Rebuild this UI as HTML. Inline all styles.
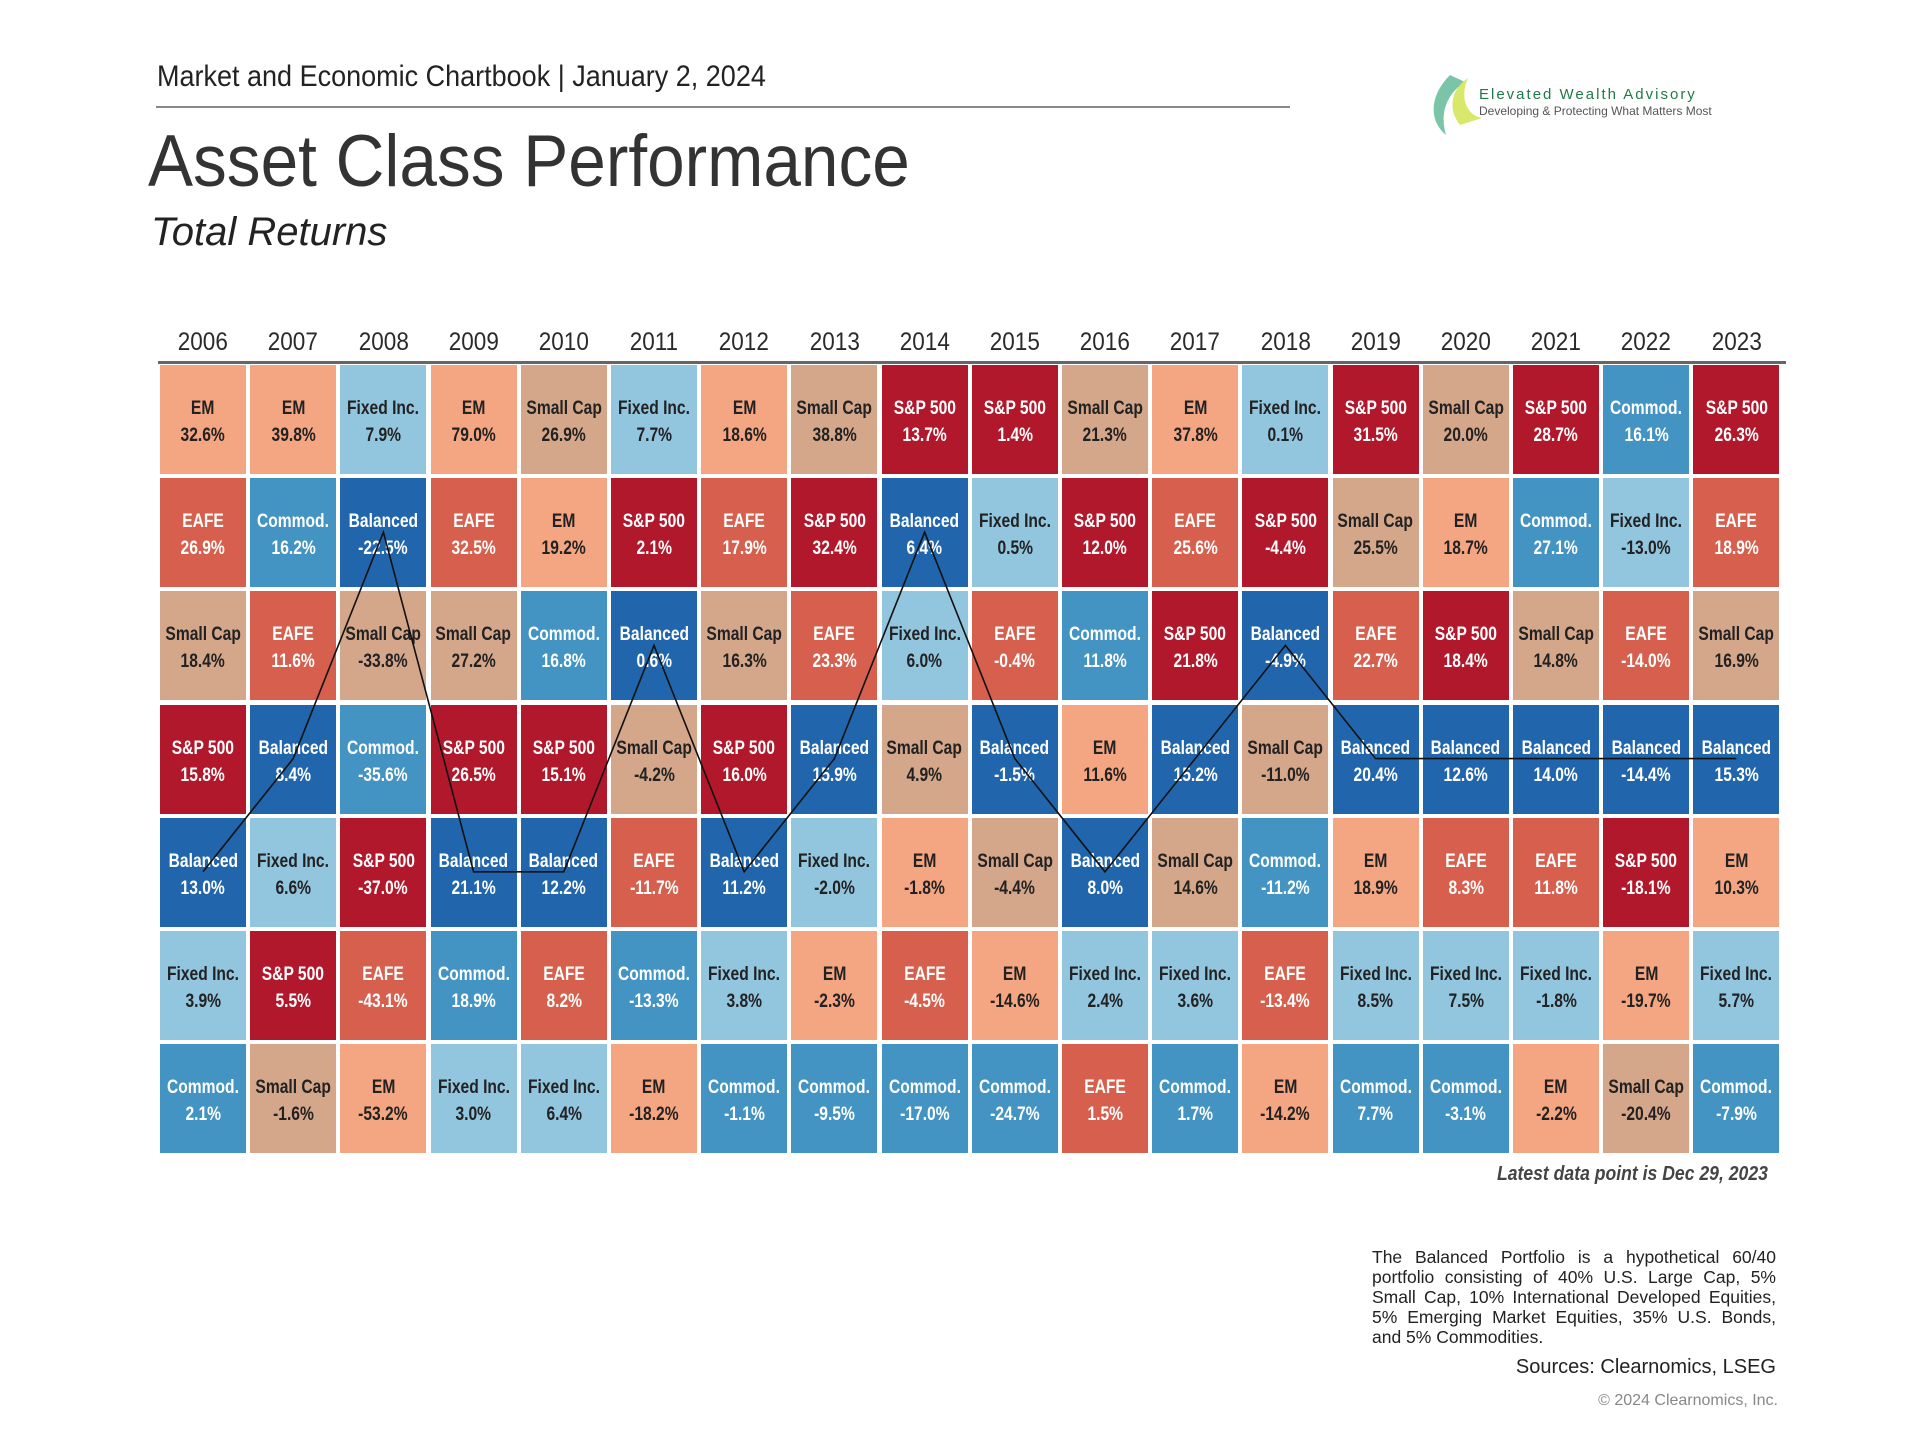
<!DOCTYPE html>
<html><head><meta charset="utf-8"><style>
body{margin:0;width:1920px;height:1440px;background:#fff;position:relative;overflow:hidden;font-family:"Liberation Sans",sans-serif;color:#222}
.a{position:absolute}
.cell{position:absolute;width:86px;height:109px;display:flex;flex-direction:column;align-items:center;justify-content:center;font-size:19.5px;line-height:27px;font-weight:bold;padding-top:5px;box-sizing:border-box}
.cell span{display:block;white-space:nowrap;transform:scaleX(0.8)}
.yr{position:absolute;width:90px;text-align:center;font-size:25px;top:328px;color:#2a2a2a}
.yr span{display:inline-block;transform:scaleX(0.9)}
</style></head><body>
<div class="a" style="left:157px;top:60px;font-size:30px;color:#222"><span style="display:inline-block;transform:scaleX(0.9);transform-origin:left">Market and Economic Chartbook | January 2, 2024</span></div>
<div class="a" style="left:156px;top:106px;width:1134px;height:2px;background:#888"></div>
<div class="a" style="left:148px;top:120px;font-size:73px;color:#333"><span style="display:inline-block;transform:scaleX(0.925);transform-origin:left">Asset Class Performance</span></div>
<div class="a" style="left:151px;top:210px;font-size:40px;font-style:italic;color:#222">Total Returns</div>
<svg class="a" style="left:1420px;top:70px" width="80" height="70"><path d="M30 5 C10 25 8 50 26 65 C20 45 25 25 45 12 Z" fill="#7cc4a8"/><path d="M48 8 C30 20 28 40 40 55 L62 48 C45 45 40 25 48 8Z" fill="#d8e86a"/></svg>
<div class="a" style="left:1479px;top:86px;font-size:15px;letter-spacing:2px;color:#1f7a4a">Elevated Wealth Advisory</div>
<div class="a" style="left:1479px;top:104px;font-size:12px;color:#555">Developing &amp; Protecting What Matters Most</div>
<div class="a" style="left:158px;top:361px;width:1628px;height:3px;background:#666"></div>
<div id="g"></div>
<svg id="ln" class="a" style="left:0;top:0" width="1920" height="1440"></svg>
<div class="a" style="left:1300px;top:1163px;font-size:20px;font-style:italic;font-weight:bold;color:#444;width:468px;text-align:right"><span style="display:inline-block;transform:scaleX(0.88);transform-origin:right">Latest data point is Dec 29, 2023</span></div>
<div class="a" style="left:1372px;top:1247px;width:404px;font-size:17.5px;line-height:20px;text-align:justify;color:#222">The Balanced Portfolio is a hypothetical 60/40 portfolio consisting of 40% U.S. Large Cap, 5% Small Cap, 10% International Developed Equities, 5% Emerging Market Equities, 35% U.S. Bonds, and 5% Commodities.</div>
<div class="a" style="left:1376px;top:1356px;width:400px;text-align:right;font-size:20px;color:#222">Sources: Clearnomics, LSEG</div>
<div class="a" style="left:1376px;top:1392px;width:402px;text-align:right;font-size:16px;color:#888">© 2024 Clearnomics, Inc.</div>
<script>
var C={EM:["#f4a582","#222","EM"],EAFE:["#d6604d","#fff","EAFE"],SP:["#b2182b","#fff","S&P 500"],SC:["#d4a68a","#222","Small Cap"],FI:["#92c5de","#222","Fixed Inc."],CO:["#4393c3","#fff","Commod."],BA:["#2166ac","#fff","Balanced"]};
var D=[
"EM 32.6,EAFE 26.9,SC 18.4,SP 15.8,BA 13.0,FI 3.9,CO 2.1",
"EM 39.8,CO 16.2,EAFE 11.6,BA 8.4,FI 6.6,SP 5.5,SC -1.6",
"FI 7.9,BA -22.5,SC -33.8,CO -35.6,SP -37.0,EAFE -43.1,EM -53.2",
"EM 79.0,EAFE 32.5,SC 27.2,SP 26.5,BA 21.1,CO 18.9,FI 3.0",
"SC 26.9,EM 19.2,CO 16.8,SP 15.1,BA 12.2,EAFE 8.2,FI 6.4",
"FI 7.7,SP 2.1,BA 0.6,SC -4.2,EAFE -11.7,CO -13.3,EM -18.2",
"EM 18.6,EAFE 17.9,SC 16.3,SP 16.0,BA 11.2,FI 3.8,CO -1.1",
"SC 38.8,SP 32.4,EAFE 23.3,BA 15.9,FI -2.0,EM -2.3,CO -9.5",
"SP 13.7,BA 6.4,FI 6.0,SC 4.9,EM -1.8,EAFE -4.5,CO -17.0",
"SP 1.4,FI 0.5,EAFE -0.4,BA -1.5,SC -4.4,EM -14.6,CO -24.7",
"SC 21.3,SP 12.0,CO 11.8,EM 11.6,BA 8.0,FI 2.4,EAFE 1.5",
"EM 37.8,EAFE 25.6,SP 21.8,BA 15.2,SC 14.6,FI 3.6,CO 1.7",
"FI 0.1,SP -4.4,BA -4.9,SC -11.0,CO -11.2,EAFE -13.4,EM -14.2",
"SP 31.5,SC 25.5,EAFE 22.7,BA 20.4,EM 18.9,FI 8.5,CO 7.7",
"SC 20.0,EM 18.7,SP 18.4,BA 12.6,EAFE 8.3,FI 7.5,CO -3.1",
"SP 28.7,CO 27.1,SC 14.8,BA 14.0,EAFE 11.8,FI -1.8,EM -2.2",
"CO 16.1,FI -13.0,EAFE -14.0,BA -14.4,SP -18.1,EM -19.7,SC -20.4",
"SP 26.3,EAFE 18.9,SC 16.9,BA 15.3,EM 10.3,FI 5.7,CO -7.9"];
var h="",pts=[];
D.forEach(function(s,i){var x=160+i*90.2;
h+='<div class="yr" style="left:'+(x-2)+'px"><span>'+(2006+i)+'</span></div>';
s.split(",").forEach(function(e,j){var p=e.split(" "),c=C[p[0]],y=365+j*113.2;
h+='<div class="cell" style="left:'+x+'px;top:'+y+'px;background:'+c[0]+';color:'+c[1]+'"><span>'+c[2].replace("&","&amp;")+'</span><span>'+p[1]+'%</span></div>';
if(p[0]=="BA")pts.push((x+43).toFixed(1)+","+(y+54).toFixed(1));});});
document.getElementById("g").innerHTML=h;
document.getElementById("ln").innerHTML='<polyline points="'+pts.join(" ")+'" fill="none" stroke="#111" stroke-width="1.6"/>';
</script>
</body></html>
